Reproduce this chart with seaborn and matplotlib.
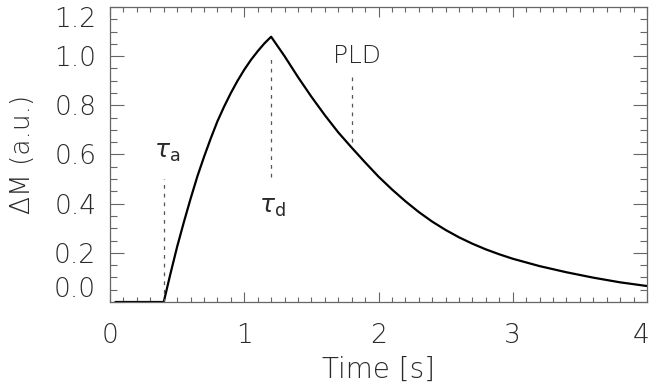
import matplotlib
matplotlib.use("Agg")
import matplotlib.pyplot as plt
from matplotlib.ticker import MultipleLocator
from matplotlib.transforms import ScaledTranslation
import pandas as pd
import seaborn as sns

# Time axis [s] and signal difference (a.u.) along the kinetic curve
time_s = [0.04, 0.40, 0.45, 0.50, 0.55, 0.60, 0.65, 0.70, 0.75, 0.80, 0.85,
          0.90, 0.95, 1.00, 1.05, 1.10, 1.15, 1.20,
          1.30, 1.40, 1.50, 1.60, 1.70, 1.80, 1.90, 2.00, 2.10, 2.20, 2.30,
          2.40, 2.50, 2.60, 2.70, 2.80, 2.90, 3.00, 3.20, 3.40, 3.60, 3.80, 4.00]
delta_m = [0.000, 0.000, 0.115, 0.225, 0.325, 0.420, 0.510, 0.590, 0.665, 0.735, 0.795,
           0.850, 0.900, 0.945, 0.985, 1.020, 1.052, 1.079,
           1.000, 0.915, 0.835, 0.760, 0.690, 0.628, 0.568, 0.510, 0.458, 0.410, 0.366,
           0.327, 0.293, 0.263, 0.237, 0.214, 0.194, 0.176, 0.146, 0.121, 0.099, 0.080, 0.065]

# Characteristic times marked on the curve
marker_times = [0.4, 1.2, 1.8]
marker_labels = [r"$\tau_{\rm a}$", r"$\tau_{\rm d}$", "PLD"]

x_ticks = [0, 1, 2, 3, 4]
y_ticks = [0.0, 0.2, 0.4, 0.6, 0.8, 1.0, 1.2]

sns.set_theme(style="ticks")
plt.rcParams["font.family"] = ["DejaVu Sans"]
plt.rcParams["mathtext.fontset"] = "dejavusans"

text_color = "#2a2a2a"
axis_color = "#666666"
font_w = "light"

fig = plt.figure(figsize=(6.53, 3.86), dpi=100)
ax = fig.add_axes([0.1685, 0.2176, 0.8223, 0.7643])

df = pd.DataFrame({"Time": time_s, "dM": delta_m})
sns.lineplot(data=df, x="Time", y="dM", ax=ax, color="black", linewidth=1.6)

# dotted guide lines at the characteristic times
guide_spans = [(0.0, 0.50), (0.51, 1.0), (0.65, 0.92)]
for t, (y0, y1) in zip(marker_times, guide_spans):
    ax.plot([t, t], [y0, y1], color="#555555", linewidth=0.9,
            linestyle=(0, (3, 4)))

label_pos = [(0.425, 0.61), (1.21, 0.385), (1.84, 1.0)]
for (lx, ly), lab in zip(label_pos, marker_labels):
    ax.text(lx, ly, lab, ha="center", va="center", fontsize=18,
            color=text_color, fontweight=font_w)

ax.set_xlim(0, 4)
ax.set_ylim(0, 1.2)
ax.set_xticks(x_ticks)
ax.set_xticklabels([str(v) for v in x_ticks], fontweight=font_w)
ax.set_yticks(y_ticks)
ax.set_yticklabels([f"{v:.1f}" for v in y_ticks], fontweight=font_w)
ax.xaxis.set_minor_locator(MultipleLocator(0.1))
ax.yaxis.set_minor_locator(MultipleLocator(0.05))

ax.tick_params(axis="both", which="both", direction="in", top=True,
               right=True, color=axis_color, width=0.8,
               labelcolor=text_color, labelsize=19)
ax.tick_params(axis="x", which="major", length=7, pad=15)
ax.tick_params(axis="x", which="minor", length=3.5)
ax.tick_params(axis="y", which="major", length=10, pad=10)
ax.tick_params(axis="y", which="minor", length=5)

for lab in ax.get_yticklabels():
    if lab.get_text() == "1.2":
        lab.set_va("top")
    elif lab.get_text() == "0.0":
        lab.set_va("bottom")

# keep the last time label inside the canvas
last_x = ax.get_xticklabels()[-1]
last_x.set_transform(last_x.get_transform()
                     + ScaledTranslation(-0.06, 0, fig.dpi_scale_trans))

for sp in ax.spines.values():
    sp.set_color(axis_color)
    sp.set_linewidth(0.9)

ax.set_xlabel("Time [s]", fontsize=20, color=text_color, labelpad=6,
              fontweight=font_w)
ax.set_ylabel("ΔM (a.u.)", fontsize=19, color=text_color, labelpad=14,
              fontweight=font_w)

fig.savefig("out.png", dpi=100)
